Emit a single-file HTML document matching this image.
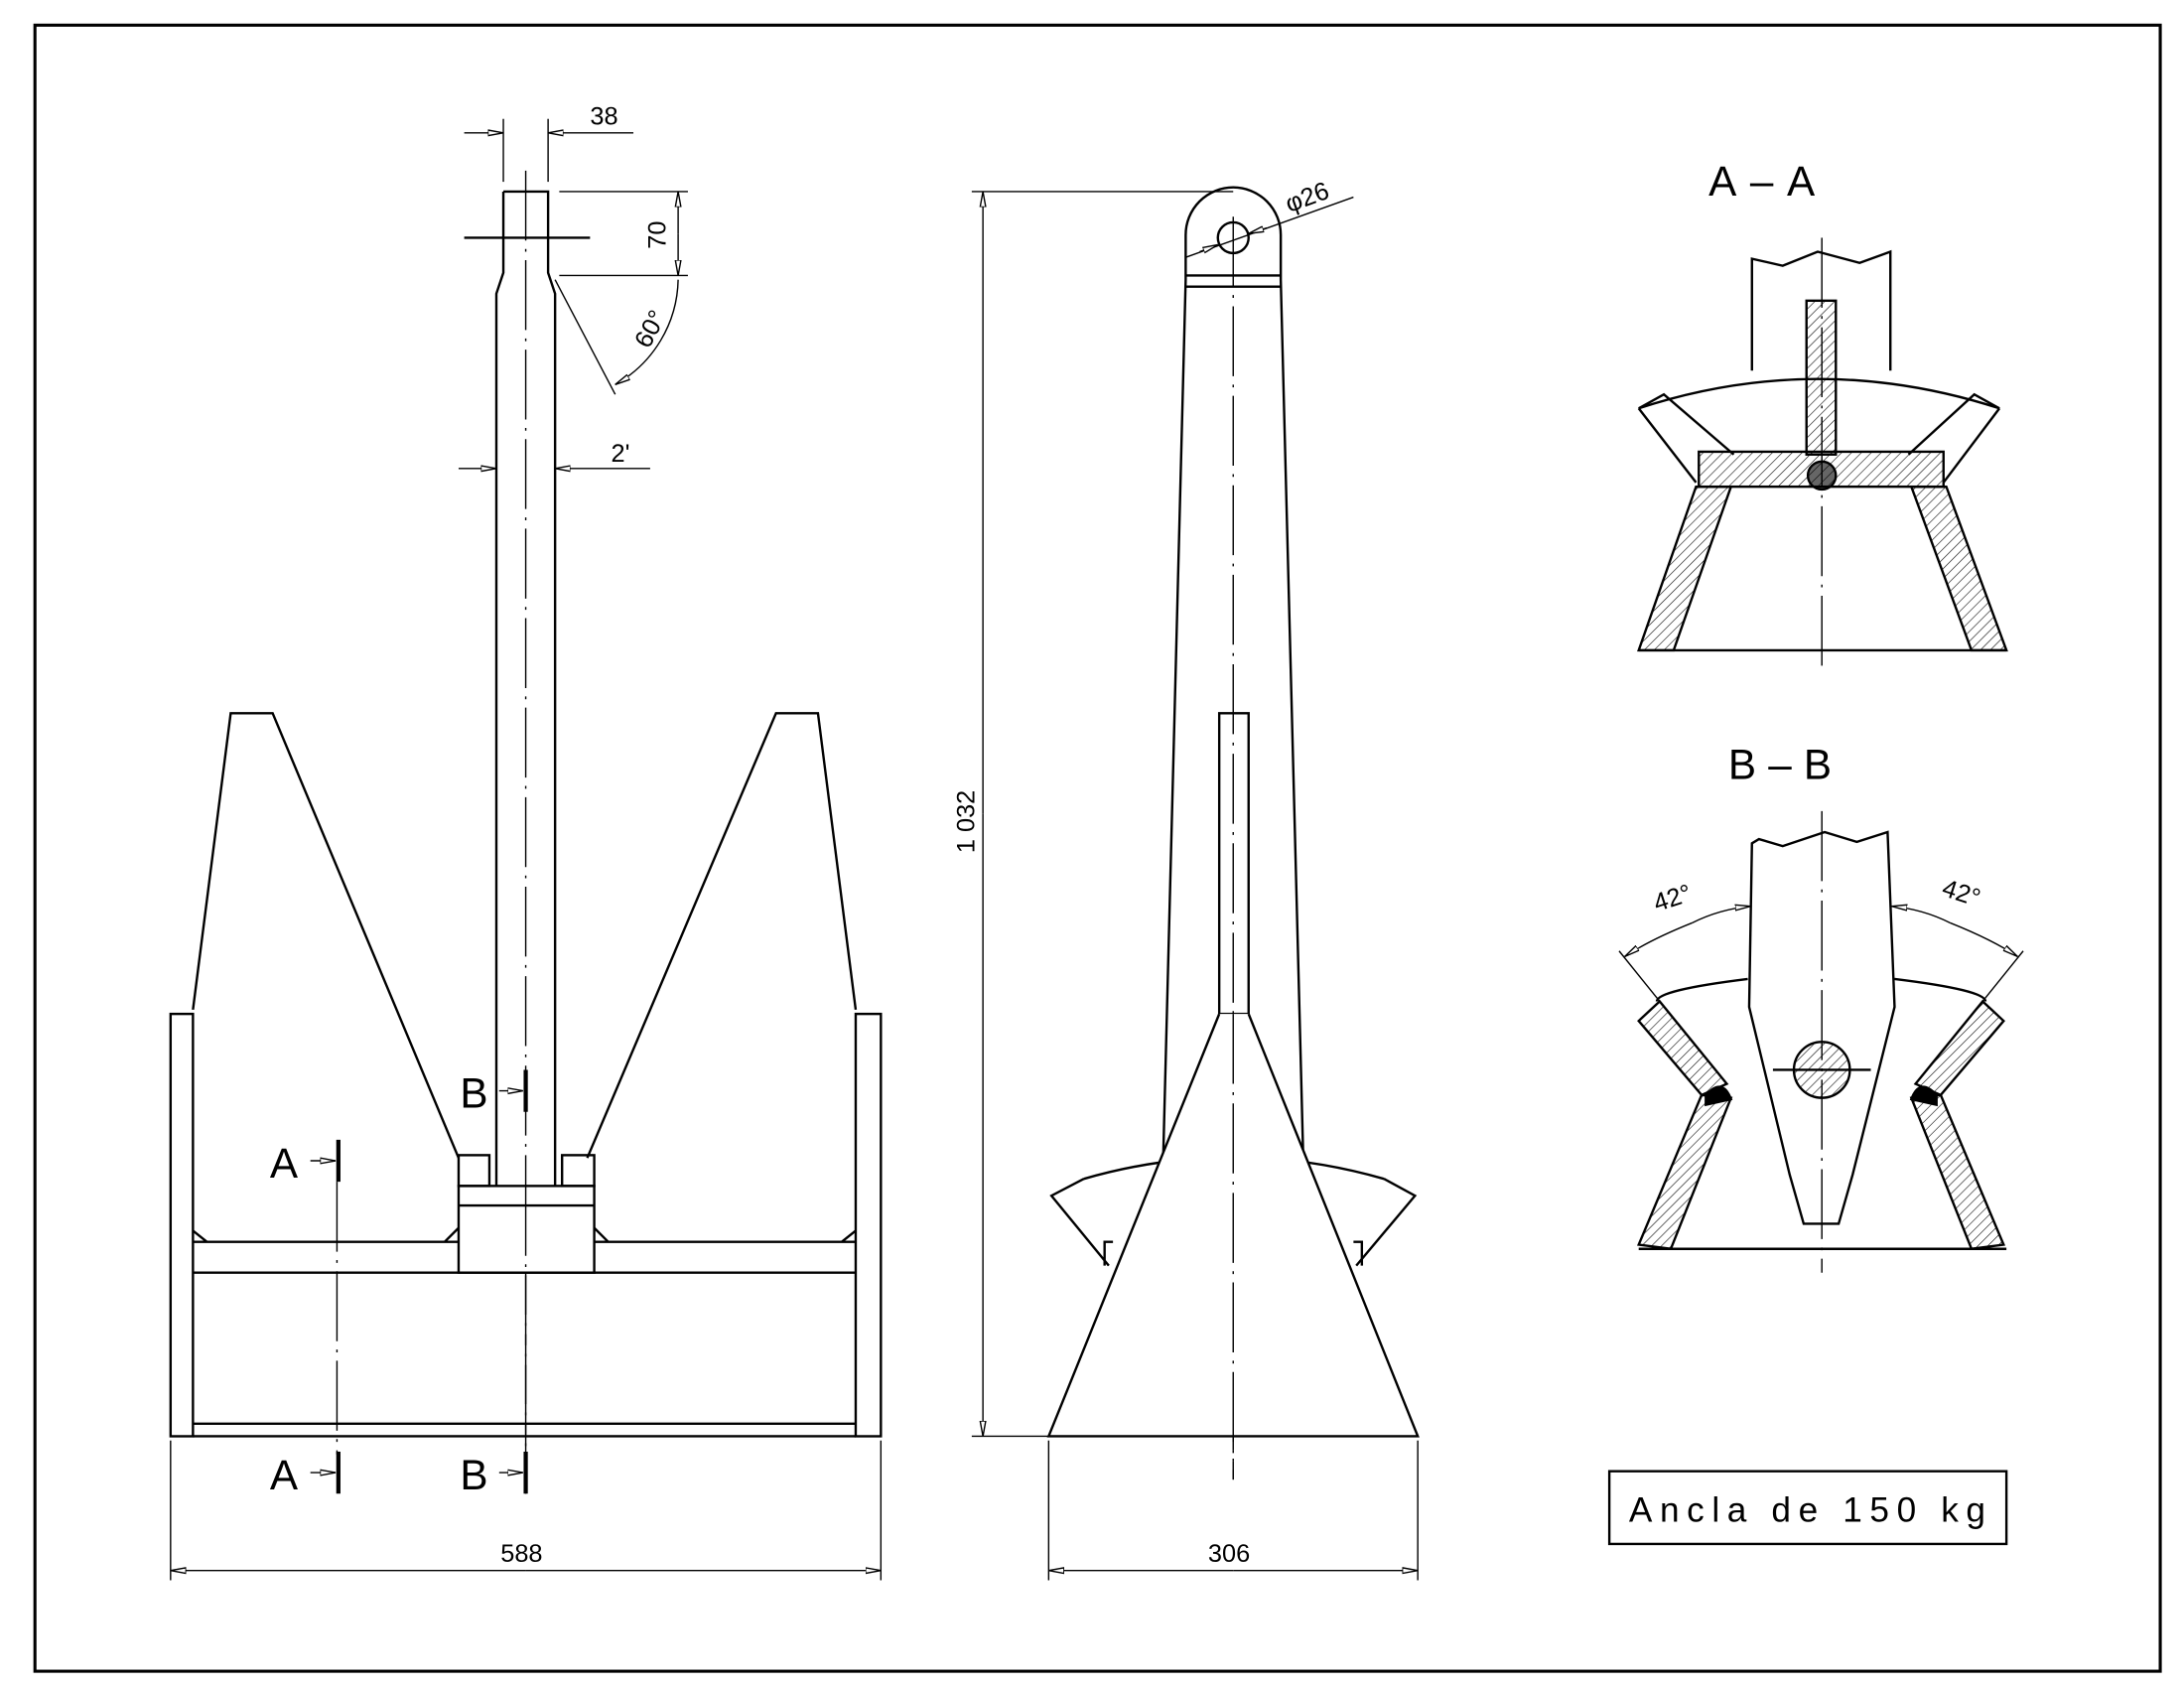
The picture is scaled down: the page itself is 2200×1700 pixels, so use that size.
<!DOCTYPE html>
<html><head><meta charset="utf-8"><style>
html,body{margin:0;padding:0;background:#fff;width:2200px;height:1700px;overflow:hidden}
svg{display:block}
text{font-family:"Liberation Sans","DejaVu Sans",sans-serif;fill:#000}
</style></head><body>
<svg width="2200" height="1700" viewBox="0 0 1562 1207" preserveAspectRatio="none" xmlns="http://www.w3.org/2000/svg">
<defs>
<pattern id="h" width="5" height="5" patternUnits="userSpaceOnUse" patternTransform="rotate(45)"><line x1="0" y1="0" x2="0" y2="5" stroke="#000" stroke-width="0.8"/></pattern>
<marker id="a" markerWidth="12" markerHeight="6" refX="11" refY="3" orient="auto" markerUnits="userSpaceOnUse"><path d="M0,1 L11,3 L0,5 Z" fill="#fff" stroke="#000" stroke-width="1"/></marker>
</defs>
<g fill="none" stroke="#000" stroke-width="1.7">
<rect x="25" y="18" width="1520" height="1177" stroke-width="2.2"/>

<!-- LEFT VIEW -->
<line x1="376" y1="122" x2="376" y2="1068" stroke-width="1" stroke-dasharray="50,6,2,6"/>
<path d="M360,137 H392 V195 L397,210 V848 M360,137 V195 L355,210 V848"/>
<line x1="332" y1="170" x2="422" y2="170"/>
<line x1="360" y1="85" x2="360" y2="130" stroke-width="1"/>
<line x1="392" y1="85" x2="392" y2="130" stroke-width="1"/>
<line x1="332" y1="95" x2="360" y2="95" stroke-width="1" marker-end="url(#a)"/>
<line x1="453" y1="95" x2="392" y2="95" stroke-width="1" marker-end="url(#a)"/>
<line x1="400" y1="137" x2="492" y2="137" stroke-width="1"/>
<line x1="400" y1="197" x2="492" y2="197" stroke-width="1"/>
<line x1="485" y1="167" x2="485" y2="137" stroke-width="1" marker-end="url(#a)"/>
<line x1="485" y1="167" x2="485" y2="197" stroke-width="1" marker-end="url(#a)"/>
<line x1="397" y1="200" x2="440" y2="282" stroke-width="1"/>
<path d="M485,200 A88,88 0 0 1 440,275" stroke-width="1" marker-end="url(#a)"/>
<line x1="328" y1="335" x2="355" y2="335" stroke-width="1" marker-end="url(#a)"/>
<line x1="465" y1="335" x2="397" y2="335" stroke-width="1" marker-end="url(#a)"/>
<path d="M138,722 L165,510 H195 L328,828 M420,828 L555,510 H585 L612,722"/>
<path d="M138,880 L148,888 M612,880 L602,888 M328,878 L318,888 M425,878 L435,888"/>
<rect x="122" y="725" width="16" height="302"/>
<rect x="612" y="725" width="18" height="302"/>
<line x1="138" y1="888" x2="612" y2="888"/>
<line x1="138" y1="910" x2="612" y2="910"/>
<line x1="138" y1="1018" x2="612" y2="1018"/>
<line x1="138" y1="1027" x2="612" y2="1027"/>
<rect x="328" y="848" width="97" height="62" fill="#fff"/>
<line x1="328" y1="862" x2="425" y2="862"/>
<rect x="328" y="826" width="22" height="22"/>
<rect x="402" y="826" width="23" height="22"/>
<line x1="376" y1="848" x2="376" y2="1068" stroke-width="1" stroke-dasharray="50,6,2,6"/>
<line x1="241" y1="845" x2="241" y2="1040" stroke-width="1" stroke-dasharray="50,6,2,6"/>
<line x1="242" y1="815" x2="242" y2="845" stroke-width="3"/>
<line x1="222" y1="830" x2="240" y2="830" stroke-width="1" marker-end="url(#a)"/>
<line x1="376" y1="765" x2="376" y2="795" stroke-width="3"/>
<line x1="357" y1="780" x2="374" y2="780" stroke-width="1" marker-end="url(#a)"/>
<line x1="242" y1="1038" x2="242" y2="1068" stroke-width="3"/>
<line x1="222" y1="1053" x2="240" y2="1053" stroke-width="1" marker-end="url(#a)"/>
<line x1="376" y1="1038" x2="376" y2="1068" stroke-width="3"/>
<line x1="357" y1="1053" x2="374" y2="1053" stroke-width="1" marker-end="url(#a)"/>
<line x1="122" y1="1030" x2="122" y2="1130" stroke-width="1"/>
<line x1="630" y1="1030" x2="630" y2="1130" stroke-width="1"/>
<line x1="376" y1="1123" x2="122" y2="1123" stroke-width="1" marker-end="url(#a)"/>
<line x1="376" y1="1123" x2="630" y2="1123" stroke-width="1" marker-end="url(#a)"/>

<!-- MIDDLE VIEW -->
<line x1="882" y1="155" x2="882" y2="1058" stroke-width="1" stroke-dasharray="50,6,2,6"/>
<path d="M848,168 A34,34 0 0 1 916,168 L916,200 L932,825 M848,168 L848,200 L832,825"/>
<line x1="848" y1="197" x2="916" y2="197"/>
<line x1="848" y1="205" x2="916" y2="205"/>
<circle cx="882" cy="170" r="11"/>
<line x1="848" y1="184" x2="968" y2="141" stroke-width="1"/>
<line x1="858" y1="180" x2="871" y2="175" stroke-width="1" marker-end="url(#a)"/>
<line x1="906" y1="163" x2="893" y2="167" stroke-width="1" marker-end="url(#a)"/>
<rect x="872" y="510" width="21" height="215"/>
<path d="M775,843 Q882,812 990,843 M775,843 L752,855 L793,905 M990,843 L1012,855 L970,905"/>
<path d="M796,888 H790 V905 M968,888 H974 V905"/>
<path d="M872,725 L750,1027 H1014 L893,725" fill="#fff"/>
<line x1="882" y1="725" x2="882" y2="1058" stroke-width="1" stroke-dasharray="50,6,2,6"/>
<line x1="695" y1="137" x2="882" y2="137" stroke-width="1"/>
<line x1="695" y1="1027" x2="750" y2="1027" stroke-width="1"/>
<line x1="703" y1="582" x2="703" y2="137" stroke-width="1" marker-end="url(#a)"/>
<line x1="703" y1="582" x2="703" y2="1027" stroke-width="1" marker-end="url(#a)"/>
<line x1="750" y1="1030" x2="750" y2="1130" stroke-width="1"/>
<line x1="1014" y1="1030" x2="1014" y2="1130" stroke-width="1"/>
<line x1="882" y1="1123" x2="750" y2="1123" stroke-width="1" marker-end="url(#a)"/>
<line x1="882" y1="1123" x2="1014" y2="1123" stroke-width="1" marker-end="url(#a)"/>

<!-- A-A -->
<path d="M1253,265 V185 L1275,190 L1300,180 L1330,188 L1352,180 V265"/>
<path d="M1172,292 Q1300,250 1430,292"/>
<path d="M1172,292 L1190,282 L1240,325 M1430,292 L1412,282 L1365,325 M1172,292 L1213,345 M1430,292 L1390,345"/>
<rect x="1292" y="215" width="21" height="110" fill="url(#h)"/>
<circle cx="1303" cy="340" r="10" fill="#666"/>
<rect x="1215" y="323" width="175" height="25" fill="url(#h)" stroke="#000"/>
<path d="M1213,348 L1238,348 L1197,465 L1172,465 Z" fill="url(#h)"/>
<path d="M1392,348 L1367,348 L1410,465 L1435,465 Z" fill="url(#h)"/>
<line x1="1172" y1="465" x2="1435" y2="465"/>
<line x1="1303" y1="170" x2="1303" y2="480" stroke-width="1" stroke-dasharray="50,6,2,6"/>

<!-- B-B -->
<path d="M1253,603 L1258,600 L1275,605 L1305,595 L1328,602 L1350,595 L1355,720 L1325,840 L1315,875 H1290 L1280,840 L1251,720 Z" fill="#fff"/>
<path d="M1250,700 Q1185,708 1185,716 M1355,700 Q1420,708 1420,716"/>
<path d="M1187,716 L1172,730 L1217,783 L1235,775 Z" fill="url(#h)"/>
<path d="M1418,716 L1433,730 L1388,783 L1370,775 Z" fill="url(#h)"/>
<path d="M1217,783 L1238,785 L1195,893 L1172,890 Z" fill="url(#h)"/>
<path d="M1388,783 L1367,785 L1410,893 L1433,890 Z" fill="url(#h)"/>
<path d="M1220,783 Q1232,770 1238,786 L1220,790 Z" fill="#000"/>
<path d="M1385,783 Q1373,770 1367,786 L1385,790 Z" fill="#000"/>
<circle cx="1303" cy="765" r="20" fill="url(#h)"/>
<line x1="1268" y1="765" x2="1338" y2="765"/>
<line x1="1172" y1="893" x2="1435" y2="893"/>
<line x1="1303" y1="580" x2="1303" y2="910" stroke-width="1" stroke-dasharray="50,6,2,6"/>
<line x1="1187" y1="716" x2="1158" y2="680" stroke-width="1"/>
<line x1="1418" y1="716" x2="1447" y2="680" stroke-width="1"/>
<path d="M1210,660 Q1230,650 1252,648" stroke-width="1" marker-end="url(#a)"/>
<path d="M1210,660 Q1180,672 1162,684" stroke-width="1" marker-end="url(#a)"/>
<path d="M1395,660 Q1375,650 1353,648" stroke-width="1" marker-end="url(#a)"/>
<path d="M1395,660 Q1425,672 1443,684" stroke-width="1" marker-end="url(#a)"/>

<rect x="1151" y="1052" width="284" height="52"/>
</g>
<g font-size="18">
<text x="422" y="89">38</text>
<text x="0" y="0" transform="translate(476,178) rotate(-90)">70</text>
<text x="0" y="0" transform="translate(464,250) rotate(-62)">60°</text>
<text x="437" y="330">2'</text>
<text x="358" y="1117">588</text>
<text x="864" y="1117">306</text>
<text x="0" y="0" transform="translate(697,610) rotate(-90)">1 032</text>
<text x="0" y="0" transform="translate(922,152) rotate(-20)">φ26</text>
<text x="0" y="0" transform="translate(1185,652) rotate(-18)">42°</text>
<text x="0" y="0" transform="translate(1388,640) rotate(18)">42°</text>
</g>
<g font-size="30">
<text x="193" y="842">A</text><text x="329" y="792">B</text>
<text x="193" y="1065">A</text><text x="329" y="1065">B</text>
<text x="1222" y="140" textLength="76">A–A</text>
<text x="1236" y="557" textLength="74">B–B</text>
</g>
<text x="1165" y="1088" font-size="25" textLength="255">Ancla de 150 kg</text>
</svg>
</body></html>
